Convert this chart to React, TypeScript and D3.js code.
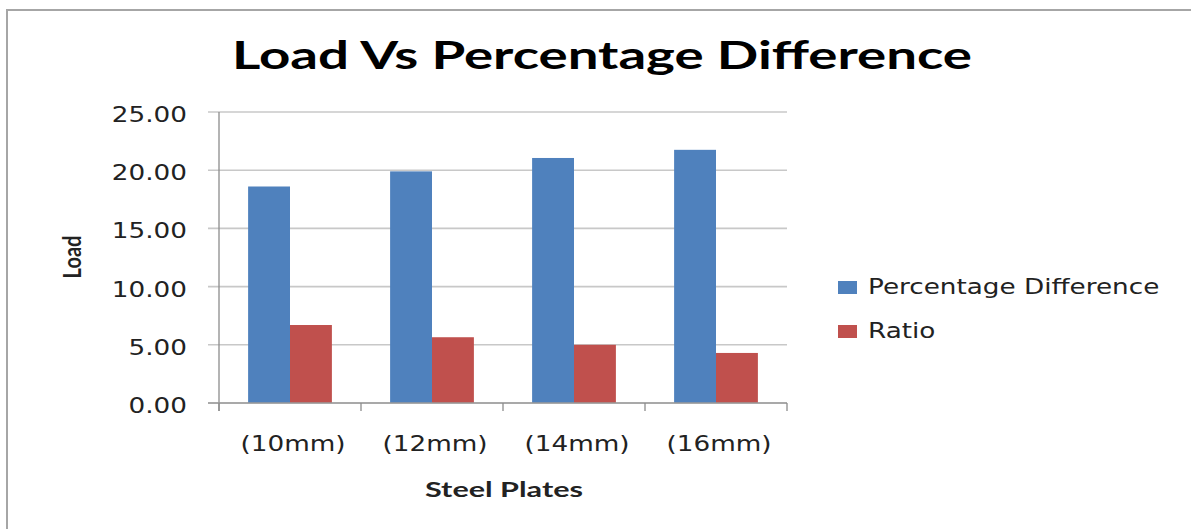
import React from "react";
import * as d3 from "d3";

const categories = ["(10mm)", "(12mm)", "(14mm)", "(16mm)"];
const seriesNames = ["Percentage Difference", "Ratio"];
const percentageDifference = [18.6, 19.9, 21.05, 21.75];
const ratio = [6.7, 5.65, 5.0, 4.3];
const yTicks = [0, 5, 10, 15, 20, 25];
const colors = ["#4F81BD", "#C0504D"];

const W = 1191;
const H = 529;
const SX = 1.25; // horizontal stretch of the source image text

export default function App() {
  const x = d3.scaleBand<string>().domain(categories).range([219, 787]).paddingInner(0.41).paddingOuter(0.205);
  const xs = d3.scaleBand<string>().domain(seriesNames).range([0, x.bandwidth()]);
  const y = d3.scaleLinear().domain([0, 25]).range([403, 112]);
  const values = [percentageDifference, ratio];
  const step = x.step();
  const edges = categories.map((c) => (x(c) as number) - (step - x.bandwidth()) / 2);
  edges.push(787);
  const font = "'DejaVu Sans', Verdana, sans-serif";
  const bold = "Lato, 'Open Sans', sans-serif";

  return (
    <svg width={W} height={H} style={{ position: "absolute", left: 0, top: 0, background: "#fff" }}>
      <rect x={0} y={0} width={W} height={H} fill="#fff" />
      <rect x={7} y={10} width={1300} height={800} fill="#fff" stroke="#a6a6a6" strokeWidth={2} />
      <text x={602} y={69} textAnchor="middle" fontFamily={bold} fontWeight={700} fontSize={39}
        textLength={740} lengthAdjust="spacingAndGlyphs" fill="#000">
        Load Vs Percentage Difference
      </text>
      {/* gridlines */}
      {yTicks.map((t) => (
        <line key={"g" + t} x1={208} x2={787} y1={y(t)} y2={y(t)} stroke="#c8c8c8" strokeWidth={1.6} />
      ))}
      {/* y labels */}
      {yTicks.map((t) => (
        <text key={"yl" + t} transform={`translate(187,${y(t) + 10}) scale(${SX},1)`} textAnchor="end"
          fontFamily={font} fontSize={21} fill="#222">
          {t.toFixed(2)}
        </text>
      ))}
      {/* bars */}
      {categories.map((c, i) => (
        <g key={c} transform={`translate(${x(c)},0)`}>
          {seriesNames.map((s, k) => (
            <rect key={s} x={xs(s)} width={xs.bandwidth()} y={y(values[k][i])}
              height={y(0) - y(values[k][i])} fill={colors[k]} />
          ))}
        </g>
      ))}
      {/* axes */}
      <line x1={219} x2={219} y1={112} y2={411} stroke="#8c8c8c" strokeWidth={1.3} />
      <line x1={208} x2={787} y1={403} y2={403} stroke="#9a9a9a" strokeWidth={1.3} />
      {edges.map((e, i) => (
        <line key={"t" + i} x1={e} x2={e} y1={403} y2={411} stroke="#8c8c8c" strokeWidth={1.3} />
      ))}
      {categories.map((c) => (
        <text key={"xl" + c} transform={`translate(${(x(c) as number) + x.bandwidth() / 2 + 3},451) scale(${SX},1)`}
          textAnchor="middle" fontFamily={font} fontSize={21} fill="#222">
          {c}
        </text>
      ))}
      <text x={504} y={497} textAnchor="middle" fontFamily={bold} fontWeight={700} fontSize={21}
        textLength={158} lengthAdjust="spacingAndGlyphs" fill="#222">
        Steel Plates
      </text>
      <text transform={`translate(81,257) scale(${SX},1) rotate(-90)`} textAnchor="middle" fontFamily={bold}
        fontWeight={700} fontSize={20} fill="#222">
        Load
      </text>
      {/* legend */}
      {seriesNames.map((s, k) => (
        <g key={"lg" + s}>
          <rect x={838} y={281 + k * 44} width={19} height={13} fill={colors[k]} />
          <text transform={`translate(868,${294 + k * 44}) scale(${SX},1)`} fontFamily={font} fontSize={21} fill="#222">
            {s}
          </text>
        </g>
      ))}
    </svg>
  );
}
